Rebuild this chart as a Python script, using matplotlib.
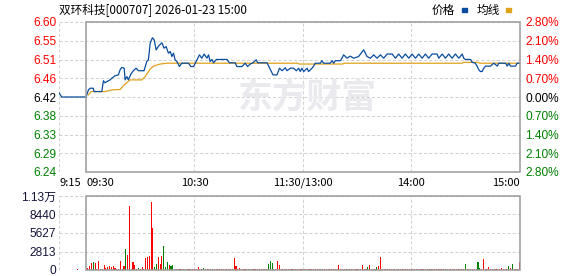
import matplotlib
matplotlib.use("Agg")
import matplotlib.pyplot as plt
from matplotlib.patches import Rectangle

W, H, DPI = 578, 276, 100

title = "双环科技[000707] 2026-01-23 15:00"
prev_close = 6.42
limit_pct = 2.80

# minute line, minutes from 09:30 (pre-market starts at -15)
price_t = [-15, -13.5, 0, 1.3, 2.2, 4, 4.4, 8.7, 9.6, 10.5,
           11.5, 13.3, 14.2, 16.1, 17.9, 18.8, 19.8, 21.1, 21.6, 22.6,
           23.4, 24.8, 26.2, 27.7, 29, 32.1, 33.6, 34.5, 35.5, 36.7,
           37.7, 38.8, 40.1, 42, 43.2, 44.3, 45.6, 46.6, 47.5, 48.4,
           49.3, 50.3, 51.7, 53, 56.7, 58, 59.5, 61.4, 62.8, 64.1,
           65.4, 66.9, 67.8, 68.7, 69.7, 70.6, 72.1, 78, 79.4, 82.6,
           83.5, 86.3, 88.1, 89.4, 90.9, 92.4, 94.2, 95, 100.2, 102,
           103.5, 105.7, 107.1, 108.5, 110.3, 111.2, 113.1, 114.9, 116.4, 117.7,
           118.6, 119.5, 120.5, 122.4, 123.2, 125.1, 126, 126.9, 129.7, 130.6,
           131.5, 135.2, 136.2, 137.1, 138, 140.8, 141.7, 142.6, 143.6, 144.5,
           146.3, 148.2, 150.9, 153.7, 155.6, 157.4, 159.3, 161.1, 163, 164.8,
           166.7, 169.5, 171.3, 173.1, 175, 176.8, 178.7, 180.5, 182.4, 184.2,
           186.1, 187.9, 189.7, 191.6, 194.4, 195.3, 197.2, 199, 200.8, 202.7,
           204.5, 206.4, 208.3, 209.1, 210.1, 212.9, 213.8, 215.6, 216.6, 217.5,
           218.4, 219.3, 220.2, 221.2, 223.9, 225.8, 227.7, 228.5, 232.3, 233.2,
           234.1, 235, 237.8, 238.7, 240]
price_v = [6.430, 6.420, 6.420, 6.437, 6.441, 6.441, 6.433, 6.433, 6.459, 6.454,
           6.457, 6.461, 6.465, 6.471, 6.473, 6.485, 6.491, 6.489, 6.461, 6.469,
           6.461, 6.475, 6.483, 6.489, 6.483, 6.483, 6.505, 6.509, 6.549, 6.562,
           6.557, 6.533, 6.542, 6.550, 6.537, 6.541, 6.525, 6.529, 6.517, 6.525,
           6.509, 6.505, 6.493, 6.501, 6.501, 6.493, 6.493, 6.509, 6.521, 6.513,
           6.523, 6.513, 6.521, 6.505, 6.510, 6.502, 6.510, 6.510, 6.502, 6.502,
           6.493, 6.493, 6.501, 6.493, 6.499, 6.502, 6.509, 6.502, 6.502, 6.486,
           6.473, 6.473, 6.489, 6.483, 6.490, 6.483, 6.489, 6.489, 6.483, 6.489,
           6.481, 6.489, 6.481, 6.489, 6.481, 6.489, 6.494, 6.501, 6.501, 6.507,
           6.501, 6.501, 6.507, 6.501, 6.507, 6.507, 6.513, 6.521, 6.517, 6.513,
           6.518, 6.513, 6.517, 6.533, 6.517, 6.513, 6.521, 6.513, 6.521, 6.513,
           6.523, 6.523, 6.513, 6.523, 6.513, 6.523, 6.513, 6.523, 6.513, 6.523,
           6.513, 6.523, 6.513, 6.523, 6.523, 6.513, 6.523, 6.513, 6.523, 6.513,
           6.523, 6.513, 6.523, 6.513, 6.510, 6.510, 6.503, 6.501, 6.493, 6.485,
           6.481, 6.481, 6.489, 6.494, 6.494, 6.501, 6.494, 6.501, 6.501, 6.494,
           6.501, 6.494, 6.494, 6.501, 6.501]

avg_t = [1.3, 2.8, 10.5, 14.2, 18.8, 21.6, 24.4, 30.9, 32.7, 35.5, 37.3, 41,
         44.7, 117, 118, 142, 143, 208, 209, 217, 218, 240]
avg_v = [6.425, 6.433, 6.433, 6.437, 6.438, 6.451, 6.461, 6.461, 6.469, 6.487,
         6.494, 6.499, 6.501, 6.501, 6.499, 6.499, 6.501, 6.501, 6.503, 6.503,
         6.501, 6.501]

# volume per minute, 09:30 .. 15:00
volume = [150, 260, 610, 1020, 1170, 1020, 150, 1370, 100, 150, 760, 260, 500, 610, 500, 610, 250, 200, 200, 1370,
          150, 610, 3150, 2280, 9730, 150, 1270, 760, 200, 260, 150, 410, 200, 1870, 2030, 2130, 10340, 6430, 410, 910,
          1930, 910, 2130, 3650, 410, 1270, 760, 610, 760, 200, 150, 120, 150, 180, 150, 120, 150, 150, 180, 150,
          150, 120, 410, 150, 150, 260, 150, 180, 150, 120, 150, 150, 150, 120, 150, 180, 150, 150, 120, 150,
          150, 150, 1870, 610, 150, 260, 150, 120, 150, 150, 180, 150, 120, 150, 150, 150, 180, 150, 120, 150,
          150, 870, 1370, 1110, 150, 150, 1370, 760, 150, 120, 150, 150, 180, 150, 120, 150, 150, 150, 120, 150,
          150, 120, 150, 150, 180, 150, 120, 150, 150, 150, 180, 150, 120, 150, 150, 150, 180, 150, 120, 150,
          760, 150, 120, 150, 150, 180, 150, 120, 150, 150, 150, 180, 150, 760, 150, 150, 410, 760, 150, 120,
          150, 500, 610, 1980, 150, 120, 150, 150, 180, 150, 120, 150, 150, 150, 180, 150, 120, 150, 150, 150,
          150, 120, 150, 150, 180, 150, 120, 150, 150, 150, 180, 150, 120, 150, 150, 150, 180, 150, 120, 150,
          150, 120, 150, 150, 180, 150, 120, 150, 150, 150, 910, 150, 120, 150, 150, 150, 180, 1220, 260, 150,
          1670, 150, 150, 410, 150, 150, 150, 200, 150, 150, 260, 150, 150, 150, 610, 350, 910, 150, 150, 150,
          1270]
green_minutes = [4, 22, 29, 38, 39, 43, 44, 45, 47, 48, 55, 65, 70, 90, 101, 102, 103,
                 130, 145, 156, 161, 170, 190, 200, 210, 217, 218, 225, 234, 236]
pre_vol_t = [-5]
pre_vol = [150]

time_ticks = [-15, 0, 60, 120, 180, 240]
time_labels = ["9:15", "09:30", "10:30", "11:30/13:00", "14:00", "15:00"]
vol_ticks = [0, 2813, 5627, 8440, 11253]
vol_labels = ["0", "2813", "5627", "8440", "1.13万"]

RED = "#ff0000"
GREEN = "#008000"
GRID = "#d2d2d2"
BORDER = "#9a9a9a"
BLUE = "#0a4c9e"
ORANGE = "#dfa21a"
CJK = ["Noto Sans CJK SC", "DejaVu Sans"]
NUM = ["Liberation Sans", "Noto Sans CJK SC"]


def fx(x):
    return x / W


def fy(y):
    return 1 - y / H


def frame(a, lo, hi, yticks):
    a.set_xlim(-15, 240)
    a.set_ylim(lo, hi)
    for s in a.spines.values():
        s.set_visible(False)
    for yv in yticks:
        a.axhline(yv, color=GRID, lw=0.75, dashes=(3, 2), zorder=0)
    for xv in [-15, 60, 120, 180]:
        a.axvline(xv, color=GRID, lw=0.75, dashes=(3, 2), zorder=0)
    a.add_patch(Rectangle((0, lo), 240, hi - lo, fill=False, ec=BORDER,
                          lw=1.1, zorder=6, clip_on=False))
    a.set_xticks([])
    a.tick_params(length=0)


fig = plt.figure(figsize=(W / DPI, H / DPI), dpi=DPI)
fig.patch.set_facecolor("white")

left, right = fx(59), fx(519.5)
ax = fig.add_axes([left, fy(172), right - left, fy(22) - fy(172)])
axv = fig.add_axes([left, fy(270), right - left, fy(196) - fy(270)])

# price panel
span = prev_close * limit_pct / 100
lo, hi = prev_close - span, prev_close + span
levels = [hi - i * span / 4 for i in range(9)]
frame(ax, lo, hi, levels)

ax.set_yticks(levels)
ax.set_yticklabels(["%.2f" % v for v in levels], family=NUM, fontsize=8.6)
ax.tick_params(axis="y", pad=2)
for i, lab in enumerate(ax.get_yticklabels()):
    lab.set_color(RED if i < 4 else ("#000000" if i == 4 else GREEN))

ax2 = ax.twinx()
ax2.set_ylim(lo, hi)
for s in ax2.spines.values():
    s.set_visible(False)
ax2.set_yticks(levels)
ax2.set_yticklabels(["%.2f%%" % abs((v - prev_close) / prev_close * 100) for v in levels],
                    family=NUM, fontsize=8.6)
ax2.tick_params(axis="y", length=0, pad=4)
for i, lab in enumerate(ax2.get_yticklabels()):
    lab.set_color(RED if i < 4 else ("#000000" if i == 4 else GREEN))

fig.text(fx(307), fy(97), "东方财富", family=CJK, fontsize=25, fontweight="bold",
         color="#e9e9ee", ha="center", va="center", zorder=0)

ax.plot(avg_t, avg_v, color=ORANGE, lw=0.9, zorder=3)
ax.plot(price_t, price_v, color=BLUE, lw=0.9, zorder=4)

for t, lab in zip(time_ticks, time_labels):
    ha = "left" if t <= 0 else ("right" if t == 240 else "center")
    ax.text(t, -0.075, lab, transform=ax.get_xaxis_transform(), ha=ha, va="center",
            family=CJK, fontsize=8, color="#000000")

# volume panel
frame(axv, 0, vol_ticks[-1], vol_ticks)
minutes = list(range(len(volume)))
colors = [GREEN if m in green_minutes else RED for m in minutes]
axv.bar(minutes, volume, width=0.6, color=colors, zorder=3)
axv.bar(pre_vol_t, pre_vol, width=0.6, color=RED, zorder=3)
axv.set_yticks(vol_ticks)
axv.set_yticklabels(vol_labels, family=NUM, fontsize=8.6, color="#14143a")
axv.tick_params(axis="y", pad=2)

# header
fig.text(fx(59), fy(10), title, family=CJK, fontsize=8.4, ha="left", va="center")
fig.text(fx(432), fy(10), "价格", family=CJK, fontsize=8.4, ha="left", va="center")
fig.patches.append(Rectangle((fx(462), fy(12)), fx(5), 4 / H, color=BLUE,
                             transform=fig.transFigure, figure=fig))
fig.text(fx(477), fy(10), "均线", family=CJK, fontsize=8.4, ha="left", va="center")
fig.patches.append(Rectangle((fx(506), fy(12)), fx(5), 4 / H, color=ORANGE,
                             transform=fig.transFigure, figure=fig))

fig.savefig("out.png", dpi=DPI)
